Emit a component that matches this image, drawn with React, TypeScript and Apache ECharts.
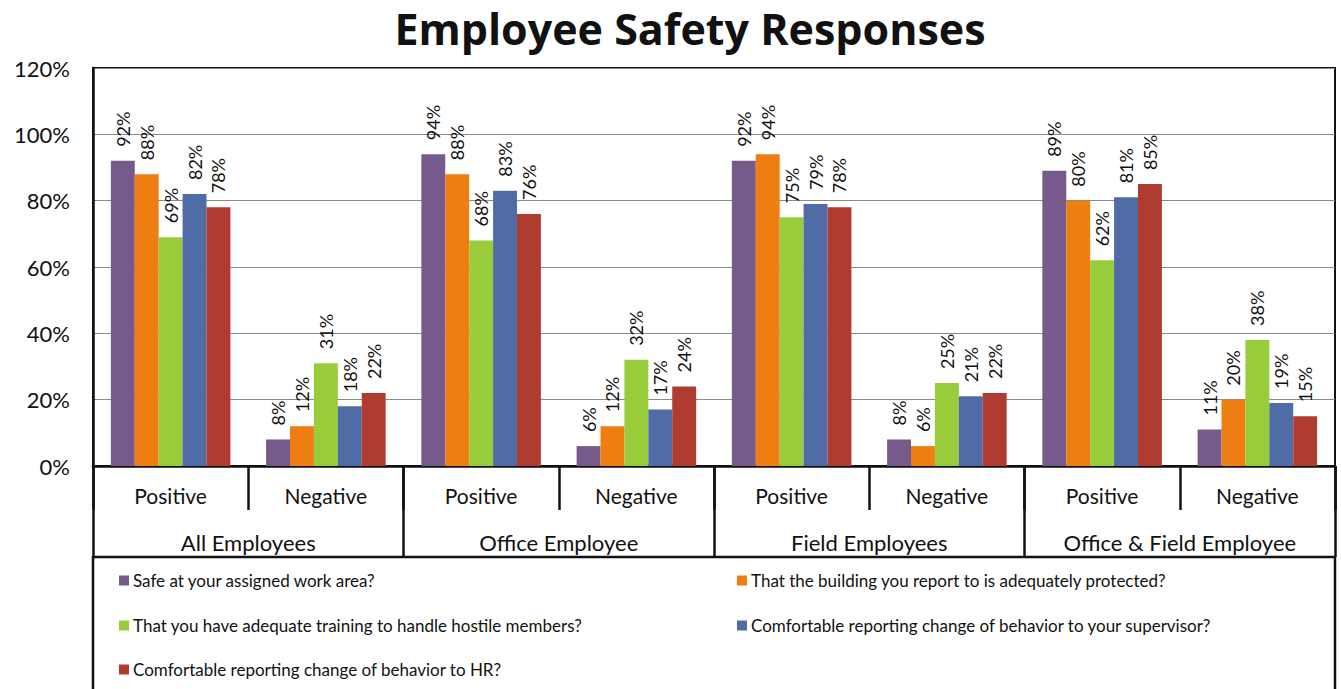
import React, { useEffect, useRef } from "react";
import * as echarts from "echarts";

const groups = ["All Employees", "Office Employee", "Field Employees", "Office & Field Employee"];
const subCategories = ["Positive", "Negative", "Positive", "Negative", "Positive", "Negative", "Positive", "Negative"];
const yTicks = [0, 20, 40, 60, 80, 100, 120];

const seriesNames = [
  "Safe at your assigned work area?",
  "That the building you report to is adequately protected?",
  "That you have adequate training to handle hostile members?",
  "Comfortable reporting change of behavior to your supervisor?",
  "Comfortable reporting change of behavior to HR?",
];
const seriesColors = ["#775a8c", "#ee7d12", "#98cc3a", "#4f6ca6", "#b03b31"];

const safeArea = [92, 8, 94, 6, 92, 8, 89, 11];
const buildingProtected = [88, 12, 88, 12, 94, 6, 80, 20];
const adequateTraining = [69, 31, 68, 32, 75, 25, 62, 38];
const reportSupervisor = [82, 18, 83, 17, 79, 21, 81, 19];
const reportHR = [78, 22, 76, 24, 78, 22, 85, 15];

const seriesData = [safeArea, buildingProtected, adequateTraining, reportSupervisor, reportHR];

const FONT = "Lato";

export default function App() {
  const ref = useRef<HTMLDivElement>(null);
  useEffect(() => {
    document.body.style.margin = "0";
    const chart = echarts.init(ref.current!, undefined, { renderer: "svg" });
    const legendPos = [
      { left: 119, top: 572 },
      { left: 737, top: 572 },
      { left: 119, top: 617 },
      { left: 737, top: 617 },
      { left: 119, top: 661 },
    ];
    chart.setOption({
      animation: false,
      backgroundColor: "#ffffff",
      title: {
        text: "Employee Safety Responses",
        left: 690,
        textAlign: "center",
        top: 5,
        padding: 0,
        textStyle: { fontFamily: "Open Sans", fontSize: 43, lineHeight: 46, fontWeight: "bold", color: "#111" },
      },
      legend: seriesNames.map((n, i) => ({
        data: [n],
        left: legendPos[i].left,
        top: legendPos[i].top,
        padding: 0,
        itemWidth: 10,
        itemHeight: 10,
        itemGap: 0,
        icon: "rect",
        selectedMode: false,
        textStyle: { fontFamily: FONT, fontSize: 17, color: "#111", padding: [0, 0, 0, -1] },
      })),
      grid: {
        left: 93,
        right: 6,
        top: 68,
        bottom: 223,
        show: true,
        borderColor: "#111",
        borderWidth: 2,
      },
      xAxis: [
        {
          type: "category",
          data: subCategories,
          position: "bottom",
          axisLine: { lineStyle: { color: "#111", width: 2.5 } },
          axisTick: { show: true, length: 44, interval: 0, lineStyle: { color: "#111", width: 2.5 } },
          axisLabel: { interval: 0, margin: 19, fontFamily: FONT, fontSize: 21, color: "#111" },
        },
        {
          type: "category",
          data: groups,
          position: "bottom",
          gridIndex: 0,
          axisLine: { show: false },
          axisTick: { show: true, length: 91, interval: 0, lineStyle: { color: "#111", width: 2.5 } },
          axisLabel: { interval: 0, margin: 65, fontFamily: FONT, fontSize: 22, color: "#111" },
        },
      ],
      yAxis: {
        type: "value",
        min: 0,
        max: 120,
        interval: 20,
        axisLine: { show: true, lineStyle: { color: "#111", width: 2.5 } },
        axisTick: { show: false },
        splitLine: { lineStyle: { color: "#8a8a8a", width: 1 } },
        axisLabel: {
          margin: 23,
          fontFamily: FONT,
          fontSize: 22,
          color: "#111",
          formatter: (v: number) => (yTicks.includes(v) ? v + "%" : ""),
        },
      },
      graphic: [
        {
          type: "rect",
          shape: { x: 93, y: 557, width: 1242, height: 140 },
          style: { fill: "none", stroke: "#111", lineWidth: 2.5 },
        },
      ],
      series: seriesNames.map((n, i) => ({
        name: n,
        type: "bar",
        xAxisIndex: 0,
        data: seriesData[i],
        barGap: "0%",
        barCategoryGap: "23%",
        itemStyle: { color: seriesColors[i] },
        label: {
          show: true,
          position: "top",
          rotate: 90,
          align: "left",
          verticalAlign: "middle",
          distance: 14,
          fontFamily: FONT,
          fontSize: 18,
          color: "#111",
          formatter: (p: any) => p.value + "%",
        },
      })),
    });
    return () => chart.dispose();
  }, []);
  return <div ref={ref} style={{ position: "absolute", left: 0, top: 0, width: 1341, height: 689 }} />;
}
